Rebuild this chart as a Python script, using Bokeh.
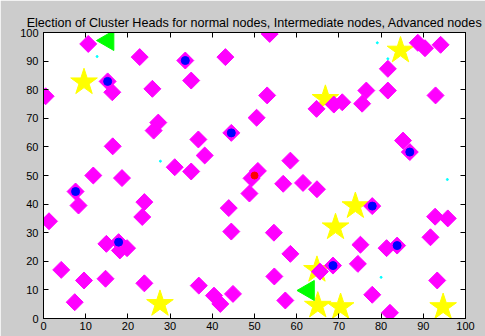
import math
from bokeh.plotting import figure
from bokeh.models import LinearAxis, Range1d, FixedTicker
from bokeh.embed import file_html
from bokeh.resources import INLINE

# normal nodes (magenta diamonds)
node_x = [10.6, 22.8, 0.5, 15.2, 16.3, 25.8, 27.2, 26.1, 33.6, 43.1, 35.0, 53.6, 53.0, 50.5,
          64.7, 68.8, 70.8, 75.5, 76.5, 81.6, 81.6, 92.9, 88.7, 90.4, 94.1, 16.4, 31.1, 11.8,
          18.6, 7.6, 8.3, 23.9, 23.4, 1.3, 44.5, 36.7, 38.2, 35.0, 58.5, 50.8, 49.3, 48.8,
          56.8, 61.5, 64.8, 43.9, 85.2, 86.8, 77.9, 92.8, 95.8, 14.9, 17.8, 19.8, 18.1, 4.2,
          9.6, 14.7, 23.9, 7.4, 44.5, 54.6, 58.5, 54.7, 36.8, 40.4, 41.9, 44.9, 57.3, 91.7,
          75.1, 81.3, 83.8, 74.5, 68.6, 65.5, 93.3, 77.9, 82.1]
node_y = [96.0, 91.4, 77.7, 82.9, 79.1, 80.3, 68.5, 65.7, 90.2, 91.4, 83.2, 99.5, 78.0, 70.2,
          73.3, 74.8, 75.6, 75.1, 79.7, 79.7, 87.3, 78.0, 96.4, 94.5, 95.7, 60.2, 52.9, 50.0,
          49.1, 44.4, 39.5, 40.7, 35.5, 34.0, 64.9, 62.6, 57.0, 51.4, 55.2, 51.6, 49.0, 43.7,
          47.1, 47.4, 45.2, 38.6, 62.2, 58.2, 39.3, 35.6, 35.0, 26.1, 26.7, 24.6, 23.8, 17.0,
          13.3, 13.9, 12.3, 5.7, 30.4, 30.0, 22.6, 14.7, 11.5, 8.0, 5.1, 8.6, 6.3, 28.4,
          25.8, 24.6, 25.5, 19.1, 18.5, 16.4, 13.3, 8.3, 2.0]

# cluster heads of normal nodes (blue dots)
ch_x = [15.2, 33.6, 7.6, 44.5, 86.8, 77.9, 17.8, 83.8, 68.6]
ch_y = [82.9, 90.2, 44.4, 64.9, 58.2, 39.3, 26.7, 25.5, 18.5]

# advanced nodes (yellow stars)
adv_x = [9.6, 84.6, 66.8, 73.9, 69.2, 27.6, 64.8, 65.0, 70.4, 94.7]
adv_y = [82.6, 93.7, 76.8, 39.3, 31.9, 5.1, 17.0, 4.5, 4.0, 4.0]

# intermediate nodes (green triangles)
int_x = [15.3, 62.8]
int_y = [97.2, 9.8]

# sink
sink_x = [50.0]
sink_y = [50.0]

# dead nodes (tiny cyan dots)
dead_x = [12.7, 27.7, 95.7, 80.0, 79.1, 81.6]
dead_y = [91.6, 55.0, 48.6, 14.4, 96.4, 90.8]

ticks = [0, 10, 20, 30, 40, 50, 60, 70, 80, 90, 100]
FONT = "Liberation Sans"

p = figure(width=485, height=336, x_range=Range1d(0, 100), y_range=Range1d(0, 100),
           output_backend="svg", toolbar_location=None,
           min_border_left=43, min_border_right=20, min_border_top=32, min_border_bottom=18,
           title="Election of Cluster Heads for normal nodes, Intermediate nodes, Advanced nodes")
p.border_fill_color = "#cccccc"
p.background_fill_color = "white"
p.outline_line_color = "black"
p.grid.visible = False
p.title.align = "center"
p.title.text_font = FONT
p.title.text_font_size = "12.6px"
p.title.text_font_style = "normal"
p.title.text_color = "black"
p.title.standoff = 6

def style_axis(ax, labels=True):
    ax.ticker = FixedTicker(ticks=ticks)
    ax.major_tick_in = 5
    ax.major_tick_out = 0
    ax.minor_tick_line_color = None
    ax.axis_line_color = "black"
    ax.major_tick_line_color = "black"
    ax.major_label_text_font = FONT
    if labels:
        ax.major_label_text_font_size = "11px"
        ax.major_label_text_color = "black"
        ax.major_label_standoff = 3
    else:
        ax.major_label_text_font_size = "1px"
        ax.major_label_text_color = None
        ax.major_label_standoff = 0

for ax in p.xaxis:
    style_axis(ax)
for ax in p.yaxis:
    style_axis(ax)
    ax.major_label_standoff = 5

top = LinearAxis()
style_axis(top, labels=False)
p.add_layout(top, "above")
right = LinearAxis()
style_axis(right, labels=False)
p.add_layout(right, "right")

p.scatter(adv_x, adv_y, marker="star", size=28, fill_color="#ffff00", line_color="#ffff00")
p.scatter(node_x, node_y, marker="square", angle=math.pi / 4, size=12,
          fill_color="#ff00ff", line_color="#ff00ff")
p.scatter(ch_x, ch_y, marker="circle", size=8, fill_color="#0000ff", line_color="#0000ff")
p.scatter(int_x, int_y, marker="triangle", angle=math.pi / 2, size=20,
          fill_color="#00ff00", line_color="#00ff00")
p.scatter(sink_x, sink_y, marker="circle", size=7, fill_color="#ff0000", line_color="#ff0000")
p.scatter(dead_x, dead_y, marker="circle", size=2, fill_color="#00ffff", line_color="#00ffff")

open("out.html", "w").write(file_html(p, INLINE))
